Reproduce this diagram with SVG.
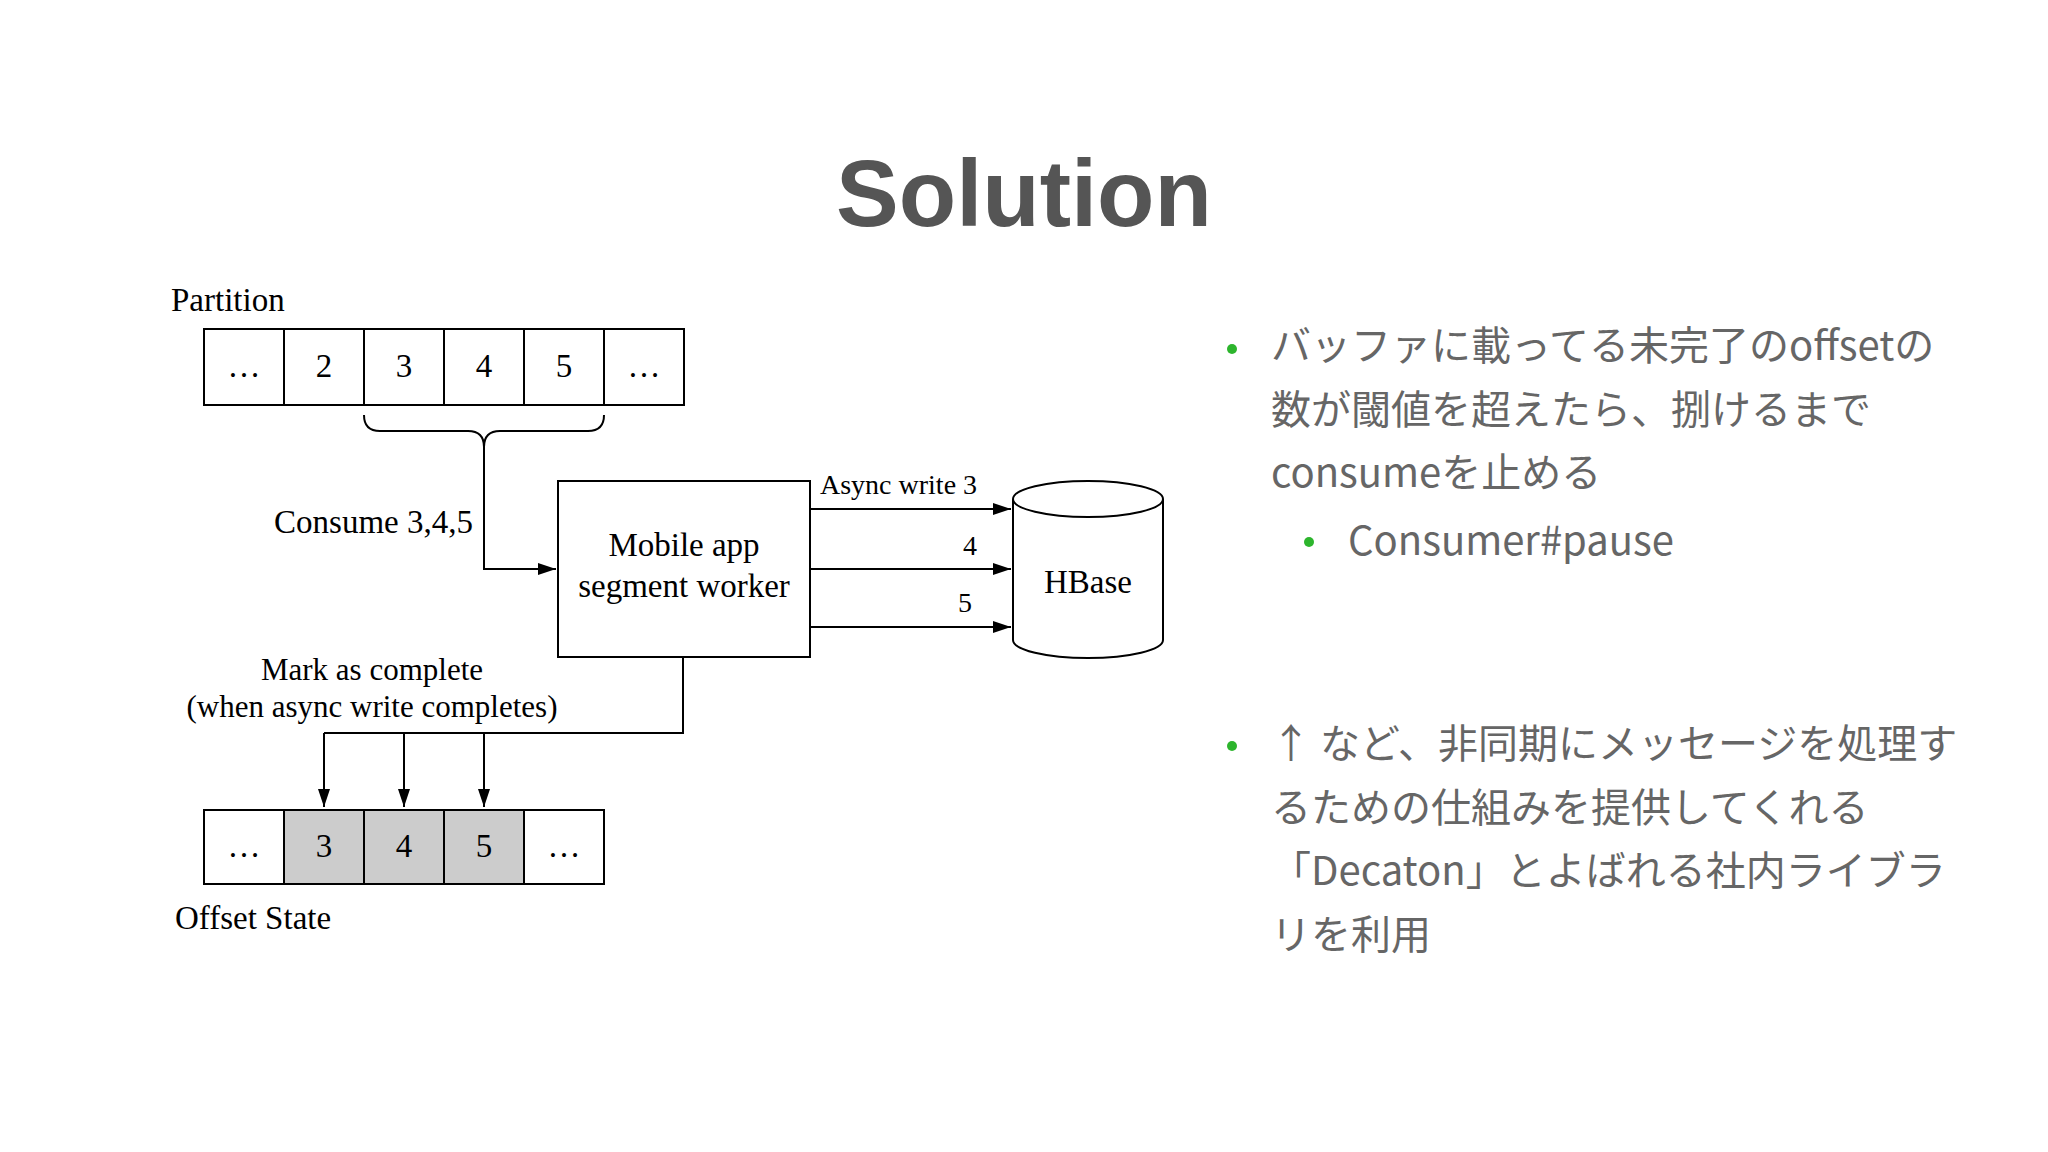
<svg xmlns="http://www.w3.org/2000/svg" width="2048" height="1152" viewBox="0 0 2048 1152">
<style>
.s{font-family:"Liberation Serif",serif;font-size:33px;fill:#000}
.c{text-anchor:middle}
.sm{font-size:28px}
.md{font-size:31px}
.j{font-family:"Noto Sans CJK JP","Liberation Sans",sans-serif;font-size:40px;fill:#666}
.cell{fill:#fff;stroke:#000;stroke-width:2}
.g{fill:#ccc}
.ln{fill:none;stroke:#000;stroke-width:2}
</style>
<defs><marker id="a" markerWidth="18" markerHeight="12" refX="18" refY="6" orient="auto" markerUnits="userSpaceOnUse"><path d="M0,0 L18,6 L0,12 Z" fill="#000"/></marker></defs>
<rect width="2048" height="1152" fill="#fff"/>
<text x="1024" y="226" text-anchor="middle" font-family="Liberation Sans,sans-serif" font-weight="bold" font-size="94" fill="#555">Solution</text>
<text class="s" x="171" y="311">Partition</text>
<g id="partition">
<rect class="cell" x="204" y="329" width="80" height="76"/><rect class="cell" x="284" y="329" width="80" height="76"/><rect class="cell" x="364" y="329" width="80" height="76"/><rect class="cell" x="444" y="329" width="80" height="76"/><rect class="cell" x="524" y="329" width="80" height="76"/><rect class="cell" x="604" y="329" width="80" height="76"/>
<text class="s c" x="244" y="377">…</text><text class="s c" x="324" y="377">2</text><text class="s c" x="404" y="377">3</text><text class="s c" x="484" y="377">4</text><text class="s c" x="564" y="377">5</text><text class="s c" x="644" y="377">…</text>
</g>
<g id="worker"><rect class="cell" x="558" y="481" width="252" height="176"/>
<text class="s c" x="684" y="556">Mobile app</text><text class="s c" x="684" y="597">segment worker</text></g>
<g id="hbase">
<path d="M1013,499 L1013,640 A75,18 0 0 0 1163,640 L1163,499" class="cell"/>
<ellipse cx="1088" cy="499" rx="75" ry="18" class="cell"/>
<text class="s c" x="1088" y="593">HBase</text></g>
<g id="offset">
<rect class="cell" x="204" y="810" width="80" height="74"/><rect class="cell g" x="284" y="810" width="80" height="74"/><rect class="cell g" x="364" y="810" width="80" height="74"/><rect class="cell g" x="444" y="810" width="80" height="74"/><rect class="cell" x="524" y="810" width="80" height="74"/>
<text class="s c" x="244" y="857">…</text><text class="s c" x="324" y="857">3</text><text class="s c" x="404" y="857">4</text><text class="s c" x="484" y="857">5</text><text class="s c" x="564" y="857">…</text>
</g>
<text class="s" x="175" y="929">Offset State</text>
<g id="connectors">
<path class="ln" d="M364,415 Q364,431 380,431 L468,431 Q484,431 484,447 Q484,431 500,431 L588,431 Q604,431 604,415"/>
<path class="ln" d="M484,447 L484,569 L556,569" marker-end="url(#a)"/>
<path class="ln" d="M810,509 L1011,509" marker-end="url(#a)"/>
<path class="ln" d="M810,569 L1011,569" marker-end="url(#a)"/>
<path class="ln" d="M810,627 L1011,627" marker-end="url(#a)"/>
<path class="ln" d="M683,657 L683,733 L324,733"/>
<path class="ln" d="M324,733 L324,807" marker-end="url(#a)"/>
<path class="ln" d="M404,733 L404,807" marker-end="url(#a)"/>
<path class="ln" d="M484,733 L484,807" marker-end="url(#a)"/>
<text class="s" x="473" y="533" text-anchor="end">Consume 3,4,5</text>
<text class="s sm" x="820" y="494">Async write 3</text>
<text class="s sm" x="963" y="555">4</text>
<text class="s sm" x="958" y="612">5</text>
<text class="s c md" x="372" y="680">Mark as complete</text>
<text class="s c md" x="372" y="717">(when async write completes)</text>
</g>
<g id="bullets">
<circle cx="1232" cy="349" r="5" fill="#2db52d"/>
<text class="j" x="1271" y="360">バッファに載ってる未完了のoffsetの</text>
<text class="j" x="1271" y="424">数が閾値を超えたら、捌けるまで</text>
<text class="j" x="1271" y="487">consumeを止める</text>
<circle cx="1309" cy="542" r="5" fill="#2db52d"/>
<text class="j" x="1348" y="555">Consumer#pause</text>
<circle cx="1232" cy="746" r="5" fill="#2db52d"/>
<text class="j" x="1271" y="758">↑ など、非同期にメッセージを処理す</text>
<text class="j" x="1271" y="822">るための仕組みを提供してくれる</text>
<text class="j" x="1271" y="885">「Decaton」とよばれる社内ライブラ</text>
<text class="j" x="1271" y="949">リを利用</text>
</g>
</svg>
